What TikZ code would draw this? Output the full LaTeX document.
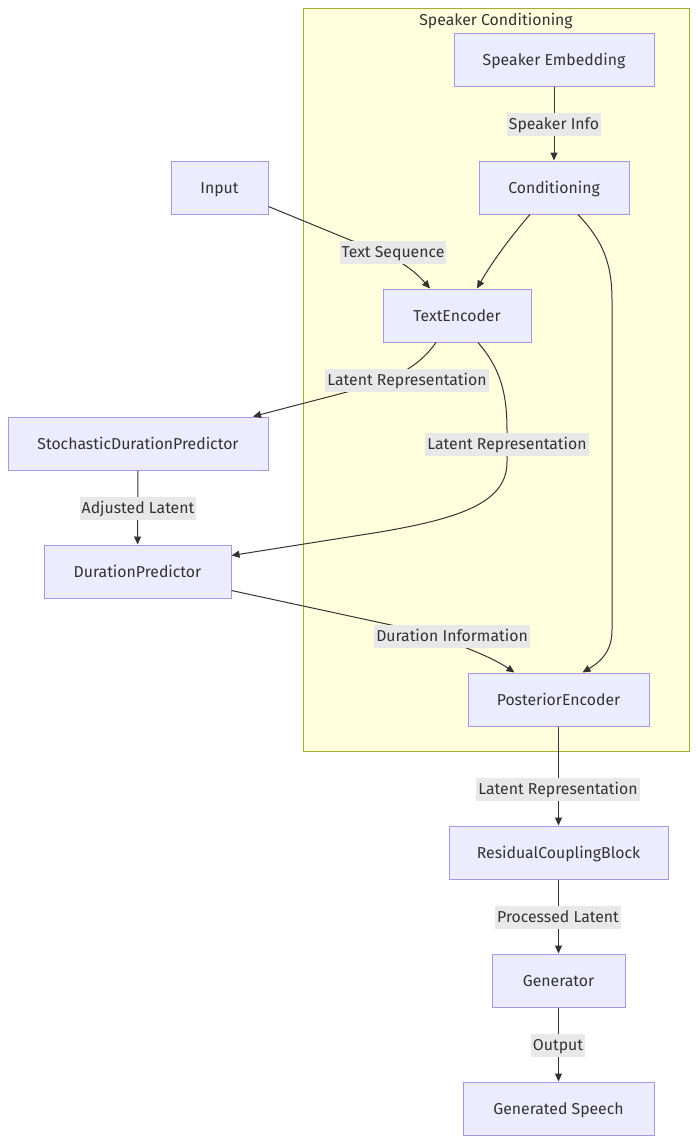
\documentclass[tikz,border=0pt]{standalone}
\usepackage{fontspec}
\setmainfont{Fira Sans}
\usetikzlibrary{arrows.meta}
\definecolor{nodefill}{HTML}{ECECFF}
\definecolor{nodeline}{HTML}{A995E0}
\definecolor{clusterfill}{HTML}{FFFFDE}
\definecolor{clusterline}{HTML}{AAAA33}
\definecolor{edgegray}{HTML}{333333}
\definecolor{labelbg}{HTML}{E8E8E8}

\begin{document}
\begin{tikzpicture}[x=1pt, y=-1pt, >={Triangle[length=8pt,width=7pt]},
  box/.style={draw=nodeline, fill=nodefill, line width=1pt, minimum height=53pt,
    inner xsep=2pt, text height=12.5pt, text depth=1.5pt, text=edgegray,
    font=\fontsize{15.8}{18}\selectfont},
  lbl/.style={fill=labelbg, inner xsep=2pt, inner ysep=0pt, minimum height=23pt,
    text height=12.5pt, text depth=1.5pt, text=edgegray, font=\fontsize{15.8}{18}\selectfont},
  edge/.style={->, draw=edgegray, line width=1pt}]
  \useasboundingbox (0,0) rectangle (697,1144);

  % Speaker conditioning group
  \draw[clusterline, fill=clusterfill, line width=1pt] (303,8) rectangle (689,751);
  \node[text=edgegray, text height=12.5pt, text depth=1.5pt, font=\fontsize{15.8}{18}\selectfont]
    (grp) at (496,19.5) {Speaker Conditioning};

  % Blocks
  \node[box, minimum width=200pt] (spk)  at (554,59.5)   {Speaker Embedding};
  \node[box, minimum width=150pt] (cond) at (554,187.5)  {Conditioning};
  \node[box, minimum width=97pt]  (inp)  at (219.5,187.5) {Input};
  \node[box, minimum width=148pt] (txt)  at (457,315.5)  {TextEncoder};
  \node[box, minimum width=260pt] (sdp)  at (138,443.5)  {StochasticDurationPredictor};
  \node[box, minimum width=187pt] (dp)   at (137.5,571.5) {DurationPredictor};
  \node[box, minimum width=181pt] (post) at (558.5,699.5) {PosteriorEncoder};
  \node[box, minimum width=219pt] (res)  at (558.5,852.5) {ResidualCouplingBlock};
  \node[box, minimum width=133pt] (gen)  at (558.5,980.5) {Generator};
  \node[box, minimum width=191pt] (out)  at (558.5,1108.5) {Generated Speech};

  % Connectors
  \draw[edge] (spk) -- (cond);
  \draw[edge] ([yshift=-19pt]inp.east) -- (350,240)
    .. controls (395,256) and (412,268) .. ([xshift=-27pt]txt.north);
  \draw[edge] ([xshift=-24pt]cond.south) .. controls (512,235) and (492,262) .. ([xshift=20pt]txt.north);
  \draw[edge] ([xshift=24pt]cond.south) .. controls (602,240) and (612,262) .. (612,300)
    -- (612,630) .. controls (612,652) and (600,662) .. ([xshift=24pt]post.north);
  \draw[edge] ([xshift=-21pt]txt.south) .. controls (422,362) and (405,374) .. (370,386)
    -- ([xshift=115pt]sdp.north);
  \draw[edge] ([xshift=21pt]txt.south) .. controls (500,368) and (507,392) .. (507,430)
    -- (507,462) .. controls (507,502) and (462,518) .. (380,532) -- ([yshift=16pt]dp.east);
  \draw[edge] (sdp) -- (dp);
  \draw[edge] ([yshift=-19pt]dp.east) -- (405,628)
    .. controls (450,640) and (490,656) .. ([xshift=-44pt]post.north);
  \draw[edge] (post) -- (res);
  \draw[edge] (res) -- (gen);
  \draw[edge] (gen) -- (out);

  % Connector labels
  \node[lbl] (l1) at (554,124)  {Speaker Info};
  \node[lbl] (l2) at (393,252)  {Text Sequence};
  \node[lbl] (l3) at (407,380)  {Latent Representation};
  \node[lbl] (l4) at (507,444)  {Latent Representation};
  \node[lbl] (l5) at (138,508)  {Adjusted Latent};
  \node[lbl] (l6) at (452,636)  {Duration Information};
  \node[lbl] (l7) at (558,789)  {Latent Representation};
  \node[lbl] (l8) at (558,917)  {Processed Latent};
  \node[lbl] (l9) at (558,1045) {Output};
\end{tikzpicture}
\end{document}
